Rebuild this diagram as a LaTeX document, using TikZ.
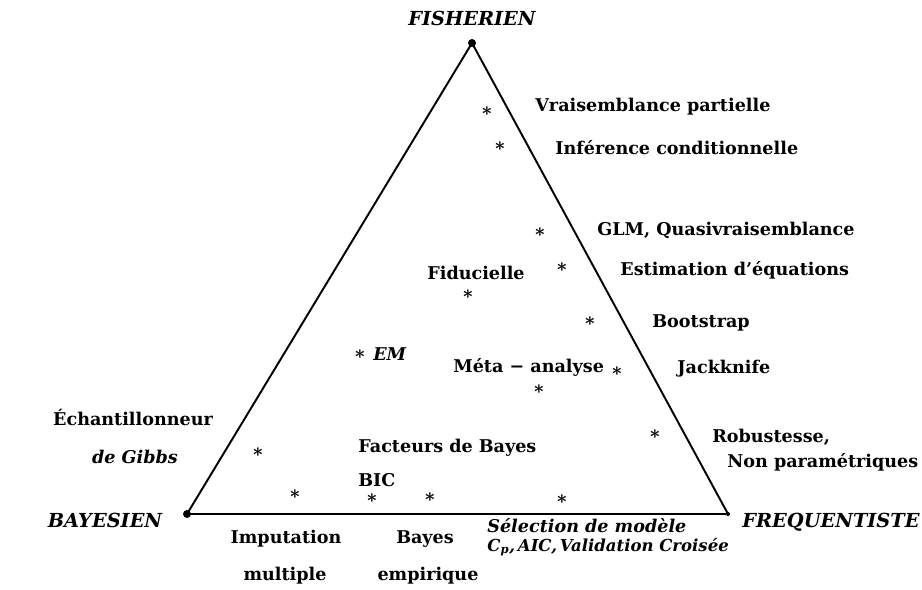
\documentclass[tikz,border=0pt]{standalone}
\usepackage{fontspec}
\setmainfont{DejaVu Serif}
\begin{document}
\begin{tikzpicture}[x=0.02cm,y=-0.02cm,
    lbl/.style={font=\bfseries\fontsize{10}{12}\selectfont, inner sep=0pt},
    ilbl/.style={font=\bfseries\itshape\fontsize{10}{12}\selectfont, inner sep=0pt},
    pole/.style={font=\bfseries\itshape\fontsize{11}{13}\selectfont, inner sep=0pt},
    pt/.style={font=\bfseries\fontsize{10}{10}\selectfont, inner sep=0pt}]
    \useasboundingbox (0,0) rectangle (922,590);
    % the three poles
    \coordinate (fish) at (472,43);
    \coordinate (bayes) at (187,514);
    \coordinate (freq) at (728,514);
    \draw[line width=1.1pt, line join=round] (fish) -- (bayes) -- (freq) -- cycle;
    \fill (fish) circle (4);
    \fill (bayes) circle (4);
    \fill (freq) circle (2);
    \node[pole] (fishlbl) at (472,18) {FISHERIEN};
    \node[pole] (bayeslbl) at (105,520) {BAYESIEN};
    \node[pole] (freqlbl) at (831,522) {FREQUENTISTE};
    % methods
    \node[pt] (p1) at (487,112) {\textasteriskcentered};
    \node[pt] (p2) at (500,147) {\textasteriskcentered};
    \node[pt] (p3) at (540,233) {\textasteriskcentered};
    \node[pt] (p4) at (562,268) {\textasteriskcentered};
    \node[pt] (p5) at (468,295) {\textasteriskcentered};
    \node[pt] (p6) at (590,322) {\textasteriskcentered};
    \node[pt] (p7) at (360,355) {\textasteriskcentered};
    \node[pt] (p8) at (617,372) {\textasteriskcentered};
    \node[pt] (p9) at (539,390) {\textasteriskcentered};
    \node[pt] (p10) at (655,435) {\textasteriskcentered};
    \node[pt] (p11) at (258,453) {\textasteriskcentered};
    \node[pt] (p12) at (295,495) {\textasteriskcentered};
    \node[pt] (p13) at (372,499) {\textasteriskcentered};
    \node[pt] (p14) at (430,498) {\textasteriskcentered};
    \node[pt] (p15) at (562,500) {\textasteriskcentered};
    \node[lbl, anchor=west] (vrais) at (535,107) {Vraisemblance partielle};
    \node[lbl, anchor=west] (infcond) at (555,148) {Inférence conditionnelle};
    \node[lbl, anchor=west] (glm) at (597,230) {GLM, Quasivraisemblance};
    \node[lbl, anchor=west] (esteq) at (620,270) {Estimation d’équations};
    \node[lbl, anchor=west] (fid) at (427,273) {Fiducielle};
    \node[lbl, anchor=west] (boot) at (652,323) {Bootstrap};
    \node[ilbl, anchor=west] (em) at (373,354) {EM};
    \node[lbl, anchor=west] (meta) at (453,367) {Méta − analyse};
    \node[lbl, anchor=west] (jack) at (677,369) {Jackknife};
    \node[lbl] (gibbs) at (133,417) {Échantillonneur};
    \node[ilbl] (gibbs2) at (135,457) {de Gibbs};
    \node[lbl, anchor=west] (robust) at (712,437) {Robustesse,};
    \node[lbl, anchor=west] (nonpar) at (727,462) {Non paramétriques};
    \node[lbl, anchor=west] (facteurs) at (358,448) {Facteurs de Bayes};
    \node[lbl, anchor=west] (bic) at (358,480) {BIC};
    \node[lbl] (imput) at (286,539) {Imputation};
    \node[lbl] (imput2) at (285,576) {multiple};
    \node[lbl] (bayesemp) at (425,539) {Bayes};
    \node[lbl] (bayesemp2) at (428,576) {empirique};
    \node[ilbl, anchor=west] (select) at (487,526) {Sélection de modèle};
    \node[ilbl, anchor=west, font=\bfseries\itshape\fontsize{9.4}{11}\selectfont] (select2) at (487,547) {C\textsubscript{p},\,AIC,\,Validation Croisée};
\end{tikzpicture}
\end{document}
